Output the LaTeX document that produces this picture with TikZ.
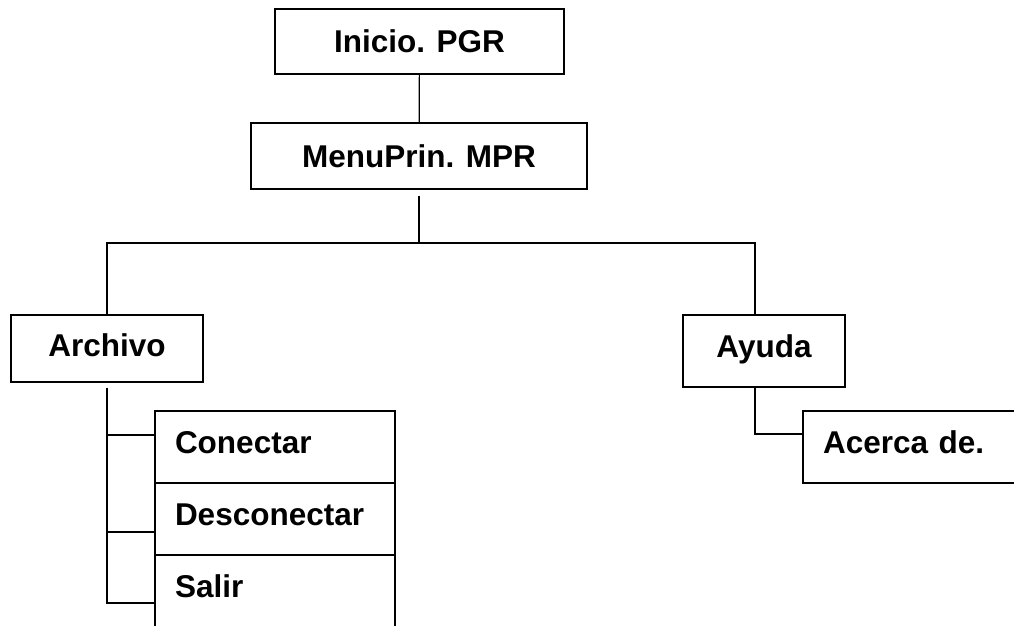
\documentclass[tikz,border=0pt]{standalone}
\usepackage{fontspec}
\setmainfont{Liberation Sans}
\usetikzlibrary{positioning}

\tikzset{
  box/.style={draw, line width=1.2pt, inner sep=0pt,
    font=\bfseries\fontsize{31.5}{36}\selectfont,
    text height=22.6pt, text depth=0pt},
  item/.style={box, outer sep=0pt, minimum width=240pt, minimum height=72pt,
    text width=200pt, inner xsep=20pt, align=left, text depth=10.6pt},
  link/.style={line width=1.2pt}
}

\begin{document}
\begin{tikzpicture}[x=1pt, y=-1pt]
  \useasboundingbox (0,0) rectangle (1014,625);
  \clip (0,0) rectangle (1014,625);
  % levels 0 and 1
  \node[box, minimum width=289pt, minimum height=65pt] (inicio) at (419.5,41.5) {Inicio. PGR};
  \node[box, minimum width=336pt, minimum height=66pt] (menu) at (419,156) {MenuPrin. MPR};
  \node[box, minimum width=192pt, minimum height=67pt, text depth=6pt] (archivo) at (107,348.5) {Archivo};
  \node[box, minimum width=162pt, minimum height=72pt, text depth=10.6pt] (ayuda) at (764,351) {Ayuda};
  % menu items
  \node[item] (conectar) at (275,447) {Conectar};
  \node[item, below=0pt of conectar] (desconectar) {Desconectar};
  \node[item, below=0pt of desconectar] (salir) {Salir};
  \node[item] (acerca) at (923,447) {Acerca de.};
  % tree
  \coordinate (bus) at (419,243);
  \draw[link] (inicio) -- (menu);
  \draw[link, shorten <=6pt] (menu.south) -- (bus);
  \draw[link] (archivo.north) |- (bus) -| ([xshift=-9pt]ayuda.north);
  \coordinate (c1) at ([yshift=12pt]conectar.west);
  \coordinate (c2) at ([yshift=-13pt]desconectar.west);
  \coordinate (c3) at ([yshift=-12pt]salir.west);
  \draw[link, shorten <=5pt] (archivo.south) -- (archivo.south |- c3) -- (c3);
  \draw[link] (c1) -- (archivo.south |- c1);
  \draw[link] (c2) -- (archivo.south |- c2);
  \draw[link] ([xshift=-9pt]ayuda.south) |- ([yshift=13pt]acerca.west);
\end{tikzpicture}
\end{document}
